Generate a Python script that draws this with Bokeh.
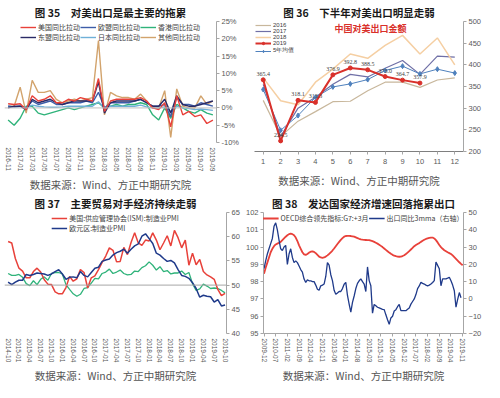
import pandas as pd
from bokeh.plotting import figure
from bokeh.layouts import row, column
from bokeh.models import (Range1d, LinearAxis, FixedTicker, Span, Legend, LegendItem,
                          Title, Label, ColumnDataSource, PrintfTickFormatter)
from bokeh.embed import file_html
from bokeh.resources import INLINE

CJK = "Noto Sans CJK SC"
NUM = "Liberation Sans"

# ---------------- Chart 35 data ----------------
months35 = pd.date_range("2016-11-01", periods=35, freq="MS").strftime("%Y-%m").tolist()
us35 = [1.2, 1.0, 1.2, -0.5, 3.5, 2.0, 2.5, 3.5, 1.5, 1.5, 2.5, 2.0, 3.0, 2.5, 2.0, 8.5, -1.0,
        2.0, 2.5, 2.5, 2.5, 2.5, 3.0, 2.0, 0.0, -0.5, 1.5, -5.5, 3.5, -2.0, -1.0, -2.5, -2.0, -4.5, -3.5]
eu35 = [0.5, 0.3, 0.5, 0.0, 2.0, 1.0, 1.5, 2.0, 1.0, 1.0, 1.5, 1.5, 1.5, 2.0, 1.5, 4.5, 0.0,
        1.5, 1.5, 1.5, 1.5, 2.0, 2.5, 1.5, 0.5, 0.5, 1.0, -2.5, 3.0, 1.0, 1.0, 0.5, 1.5, 1.0, 0.5]
hk35 = [-3.5, -5.0, -3.0, 0.5, 0.5, -1.5, -2.0, -1.5, -1.0, -0.5, 0.0, -0.5, 0.0, 0.5, 1.0, 1.5, 0.0,
        0.5, 1.0, 0.5, 1.0, 1.0, 1.5, 1.0, -2.0, -3.5, 0.0, -3.0, 1.0, 0.0, -1.0, -1.5, -0.5, -1.5, -2.0]
asean35 = [0.0, 0.5, 0.5, -0.5, 2.5, 1.5, 2.0, 2.5, 1.5, 1.0, 1.5, 2.0, 2.0, 2.0, 2.0, 7.5, -1.5,
           1.5, 2.0, 2.0, 2.0, 2.0, 2.5, 1.5, 0.5, 0.5, 2.5, -1.5, 3.5, 1.0, 0.5, 0.5, 1.0, 1.5, 2.0]
jp35 = [0.5, 0.3, 0.5, 0.0, 0.8, 0.5, 0.3, 0.2, 0.2, 0.3, 0.5, 0.5, 0.5, 0.5, 0.5, 1.8, 0.0,
        0.5, 0.5, 0.5, 0.5, 0.5, 0.8, 0.3, 0.0, 0.0, 0.3, -1.0, 0.5, 0.0, -0.2, -0.5, -0.3, -0.5, -0.7]
other35 = [0.5, 0.5, 6.0, -1.5, 8.0, 4.5, 4.5, 5.0, 2.5, 1.5, 2.0, 2.5, 2.0, 2.5, 3.0, 19.5, -2.0,
           4.5, 3.5, 3.0, 3.0, 2.5, 4.0, 2.0, 0.0, 0.0, 5.0, -8.5, 5.5, 0.5, 0.0, 0.0, 3.5, 1.0, 2.0]
names35 = ["美国同比拉动", "欧盟同比拉动", "香港同比拉动", "东盟同比拉动", "日本同比拉动", "其他同比拉动"]

# ---------------- Chart 36 data ----------------
month_no = [1, 2, 3, 4, 5, 6, 7, 8, 9, 10, 11, 12]
y2016 = [318, 235, 270, 292, 315, 316, 340, 360, 360, 348, 365, 370]
y2017 = [355, 235, 300, 325, 355, 378, 372, 392, 410, 378, 420, 418]
y2018 = [370, 317, 308, 360, 390, 425, 415, 445, 468, 425, 462, 400]
y2019 = [365.4, 224.5, 318.1, 313.3, 376.9, 392.8, 388.5, 373.0, 364.7, 357.9]
avg5 = [343, 249, 283, 325, 349, 356, 366, 387, 397, 379, 390, 381]

# ---------------- Chart 37 data ----------------
months37 = pd.date_range("2014-10-01", periods=61, freq="MS").strftime("%Y-%m").tolist()
ism = [59.0, 58.7, 55.5, 53.5, 52.9, 51.5, 51.5, 52.8, 53.5, 52.7, 51.1, 50.2, 50.1, 48.6, 48.2,
       48.2, 49.5, 51.8, 50.8, 51.3, 53.2, 52.6, 49.4, 51.5, 51.9, 53.2, 54.7, 56.0, 57.7, 57.2,
       54.8, 54.9, 57.8, 56.3, 58.8, 60.8, 58.7, 58.2, 59.3, 59.1, 60.8, 59.3, 57.3, 58.7, 60.2,
       58.1, 61.3, 59.8, 57.7, 59.3, 54.1, 56.6, 54.2, 55.3, 52.8, 52.1, 51.7, 51.2, 49.1, 47.8, 48.3]
ez = [50.6, 50.1, 50.6, 51.0, 51.0, 52.2, 52.0, 52.2, 52.5, 52.4, 52.3, 52.0, 52.3, 52.8, 53.2,
      52.3, 51.2, 51.6, 51.7, 51.5, 52.8, 52.0, 51.7, 52.6, 53.5, 53.7, 54.9, 55.2, 55.4, 56.2,
      56.7, 57.0, 57.4, 56.6, 57.4, 58.1, 58.5, 60.1, 60.6, 59.6, 58.6, 56.6, 56.2, 55.5, 54.9,
      55.1, 54.6, 53.2, 52.0, 51.8, 51.4, 50.5, 49.3, 47.5, 47.9, 47.7, 47.6, 46.5, 47.0, 45.7, 45.9]
jp = [52.4, 52.0, 52.0, 52.2, 51.6, 50.3, 49.9, 50.9, 50.1, 51.2, 51.7, 51.0, 52.4, 52.6, 52.6,
      52.3, 50.1, 49.1, 48.2, 47.7, 48.1, 49.3, 49.5, 50.4, 51.4, 51.3, 52.4, 52.7, 53.3, 52.4,
      52.7, 53.1, 52.4, 52.1, 52.2, 52.9, 52.8, 53.6, 54.0, 54.8, 54.1, 53.1, 53.8, 52.8, 53.0,
      52.3, 52.5, 52.5, 52.9, 52.2, 52.6, 50.3, 48.9, 49.2, 50.2, 49.8, 49.3, 49.4, 49.3, 48.9, 48.4]

# ---------------- Chart 38 data ----------------
months38 = pd.date_range("2009-12-01", periods=120, freq="MS").strftime("%Y-%m").tolist()
oecd = [98.45, 98.8, 99.1, 99.4, 99.7, 99.9, 100.05, 100.15, 100.2, 100.25, 100.3, 100.4, 100.5,
        100.6, 100.68, 100.75, 100.78, 100.75, 100.68, 100.55, 100.35, 100.1, 99.9, 99.7, 99.58,
        99.55, 99.6, 99.68, 99.73, 99.75, 99.72, 99.65, 99.55, 99.45, 99.4, 99.38, 99.4, 99.45,
        99.52, 99.6, 99.7, 99.8, 99.92, 100.05, 100.18, 100.3, 100.42, 100.52, 100.6, 100.64,
        100.65, 100.65, 100.64, 100.62, 100.6, 100.56, 100.52, 100.48, 100.45, 100.43, 100.42,
        100.41, 100.4, 100.4, 100.37, 100.34, 100.3, 100.25, 100.2, 100.14, 100.07, 100.0, 99.92,
        99.84, 99.76, 99.68, 99.61, 99.55, 99.5, 99.47, 99.45, 99.44, 99.45, 99.48, 99.53, 99.6,
        99.68, 99.77, 99.86, 99.95, 100.05, 100.12, 100.18, 100.23, 100.3, 100.36, 100.42, 100.47,
        100.5, 100.53, 100.55, 100.55, 100.5, 100.4, 100.27, 100.12, 100.0, 99.9, 99.82, 99.76,
        99.7, 99.65, 99.6, 99.52, 99.42, 99.32, 99.22, 99.12, 99.03, 98.95]
export3m = [17.5, 22, 26, 29, 32, 35, 42, 44, 40, 34, 29, 28, 30, 31, 20, 26, 29, 24, 21, 22, 21,
            19, 17, 15.5, 11.5, 9.6, 11, 10.5, 10.5, 10, 10, 8, 5.6, 5, 7.6, 8, 8.6, 13, 21, 19.5,
            14, 10.6, 5, 2.7, 3.5, 4.3, 4.3, 6, 8.5, 9.6, 2, -3, -7.6, -2, 1.7, 6, 9, 10.5, 11.6,
            10, 8.6, 4.3, 18.5, 10.6, 7.6, -8.2, -3.2, -4, -4.8, -5.2, -5.6, -6, -6.2, -9.2, -12,
            -14.7, -11, -10, -7, -6.2, -4.5, -3.2, -6.8, -6.8, -6.8, -6.8, -6, -5.2, -3, -1.5, 0,
            2.5, 6, 7.5, 9.6, 9, 8.6, 8, 7.6, 8, 8.6, 9.5, 10.6, 21.4, 19.4, 17.5, 7.6, 11.6, 11.6,
            11.6, 12, 12.5, 10.5, 8, 4.7, -4.8, -0.3, 3.7, 0.7]

SOURCE = "数据来源：Wind、方正中期研究院"
TICK_COLOR = "#595959"
W, H = 242, 191


def style_axis(ax):
    ax.major_label_text_font = NUM
    ax.major_label_text_font_size = "7.5px"
    ax.major_label_text_color = TICK_COLOR
    ax.axis_line_color = "#a6a6a6"
    ax.major_tick_line_color = "#a6a6a6"
    ax.minor_tick_line_color = None
    ax.major_tick_in = 0
    ax.major_tick_out = 3
    ax.major_label_standoff = 2


def base_fig(title, x_range, y_range, y_loc="right", left=4, right=3, bottom=0, top=0):
    p = figure(width=W, height=H, x_range=x_range, y_range=y_range, y_axis_location=y_loc,
               output_backend="svg", toolbar_location=None,
               min_border_left=left, min_border_right=right, min_border_top=top,
               min_border_bottom=0, frame_align=False)
    p.title.text = title
    p.title.align = "center"
    p.title.text_font = CJK
    p.title.text_font_size = "10.5px"
    p.title.text_font_style = "bold"
    p.title.text_color = "#1a1a1a"
    p.title.offset = 0
    p.title.standoff = 4
    src = Title(text=SOURCE, align="center", text_font=CJK, text_font_size="10.5px",
                text_font_style="normal", text_color="#555555", standoff=bottom)
    p.add_layout(src, "below")
    p.outline_line_color = None
    p.xgrid.visible = False
    p.ygrid.visible = False
    for ax in p.axis:
        style_axis(ax)
    return p


def month_axis(p, labels, step):
    ticks = list(range(0, len(labels), step))
    p.xaxis.ticker = FixedTicker(ticks=ticks)
    p.xaxis.major_label_overrides = {t: labels[t] for t in ticks}
    p.xaxis.major_label_orientation = "vertical"
    p.xaxis.major_label_text_font_size = "6.5px"


def make_legend(items, font=CJK, size="7px", **kw):
    leg = Legend(items=items, border_line_color=None, background_fill_alpha=0,
                 label_text_font=font, label_text_font_size=size, label_text_color="#404040",
                 label_text_line_height=1.0,
                 glyph_width=16, glyph_height=6, label_height=6, label_standoff=2,
                 spacing=0, padding=0, margin=1, **kw)
    return leg


# ================= Chart 35 =================
x35 = list(range(len(months35)))
p1 = base_fig("图 35\u2003对美出口是最主要的拖累", Range1d(-0.6, 34.6), Range1d(-10, 25))
p1.yaxis.ticker = FixedTicker(ticks=[-10, -5, 0, 5, 10, 15, 20, 25])
p1.yaxis.formatter = PrintfTickFormatter(format="%d%%")
month_axis(p1, months35, 2)
p1.xaxis.axis_line_color = None
p1.xaxis.major_tick_line_color = None
p1.add_layout(Span(location=0, dimension="width", line_color="#bfbfbf", line_width=1))
colors35 = ["#e8413a", "#3d5da8", "#2fb37a", "#2a2a66", "#6fb0d8", "#d2a36c"]
series35 = [us35, eu35, hk35, asean35, jp35, other35]
order = [5, 2, 4, 1, 3, 0]
rends = {}
for i in order:
    rends[i] = p1.line(x35, series35[i], line_color=colors35[i], line_width=1.4)
items35 = [LegendItem(label=names35[i], renderers=[rends[i]]) for i in range(6)]
p1.add_layout(make_legend(items35, location="top_center", orientation="horizontal", ncols=3))

# ================= Chart 36 =================
p2 = base_fig("图 36\u2003下半年对美出口明显走弱", Range1d(0.5, 12.5), Range1d(200, 500),
              left=12, bottom=8, top=5)
p2.yaxis.ticker = FixedTicker(ticks=[200, 250, 300, 350, 400, 450, 500])
p2.xaxis.ticker = FixedTicker(ticks=month_no)
p2.xaxis.axis_line_color = "#7f7f7f"
p2.xaxis.major_label_standoff = 4
r16 = p2.line(month_no, y2016, line_color="#c8b79c", line_width=1.2)
r17 = p2.line(month_no, y2017, line_color="#6f6fa6", line_width=1.2)
r18 = p2.line(month_no, y2018, line_color="#f5cfa3", line_width=1.5)
r5l = p2.line(month_no, avg5, line_color="#4f81bd", line_width=1)
r5m = p2.scatter(month_no, avg5, marker="diamond", size=5, color="#4f81bd")
m19 = month_no[:len(y2019)]
r19l = p2.line(m19, y2019, line_color="#d9302a", line_width=2)
r19m = p2.scatter(m19, y2019, marker="circle", size=4, color="#d9302a")
src19 = ColumnDataSource(dict(x=m19, y=y2019, t=[f"{v:.1f}" for v in y2019]))
p2.text("x", "y", text="t", source=src19, text_font_size="6px", text_color="#404040",
        text_align="center", text_baseline="bottom", y_offset=-4, text_font=NUM)
p2.add_layout(make_legend([LegendItem(label="2016", renderers=[r16]),
                           LegendItem(label="2017", renderers=[r17]),
                           LegendItem(label="2018", renderers=[r18]),
                           LegendItem(label="2019", renderers=[r19l, r19m]),
                           LegendItem(label="5年均值", renderers=[r5l, r5m])],
                          font=NUM, size="6px", location="top_left", orientation="vertical"))
p2.add_layout(Label(x=5.1, y=468, text="中国对美出口金额", text_font=CJK,
                    text_font_size="9px", text_font_style="bold", text_color="#d9302a"))

# ================= Chart 37 =================
x37 = list(range(len(months37)))
p3 = base_fig("图 37\u2003主要贸易对手经济持续走弱", Range1d(-1, 60.4), Range1d(40, 65))
p3.yaxis.ticker = FixedTicker(ticks=[40, 45, 50, 55, 60, 65])
month_axis(p3, months37, 3)
p3.xaxis.axis_line_color = None
p3.xaxis.major_tick_line_color = None
p3.add_layout(Span(location=50, dimension="width", line_color="#a6a6a6", line_width=1))
rj = p3.line(x37, jp, line_color="#2fb37a", line_width=1.3)
ri = p3.line(x37, ism, line_color="#e8413a", line_width=1.5)
re = p3.line(x37, ez, line_color="#1f3a8a", line_width=1.5)
p3.add_layout(make_legend([LegendItem(label="美国:供应管理协会(ISM):制造业PMI", renderers=[ri]),
                           LegendItem(label="欧元区:制造业PMI", renderers=[re])],
                          location="top_center", orientation="vertical"))

# ================= Chart 38 =================
x38 = list(range(len(months38)))
p4 = base_fig("图 38\u2003发达国家经济增速回落拖累出口", Range1d(-0.3, 119.5), Range1d(95, 102),
              y_loc="left")
p4.yaxis.ticker = FixedTicker(ticks=[95, 96, 97, 98, 99, 100, 101, 102])
p4.extra_y_ranges = {"r": Range1d(-20, 50)}
ax_r = LinearAxis(y_range_name="r", ticker=FixedTicker(ticks=[-20, -10, 0, 10, 20, 30, 40, 50]))
style_axis(ax_r)
p4.add_layout(ax_r, "right")
month_axis(p4, months38, 7)
ro = p4.line(x38, oecd, line_color="#e8413a", line_width=1.8)
rx = p4.line(x38[:len(export3m)], export3m, line_color="#1f3a8a", line_width=1.3, y_range_name="r")
p4.add_layout(make_legend([LegendItem(label="OECD综合领先指标:G7:+3月", renderers=[ro]),
                           LegendItem(label="出口同比3mma（右轴）", renderers=[rx])],
                          location="top_center", orientation="horizontal"))

layout = column(row(p1, p2), row(p3, p4))
open("out.html", "w").write(file_html(layout, INLINE))
